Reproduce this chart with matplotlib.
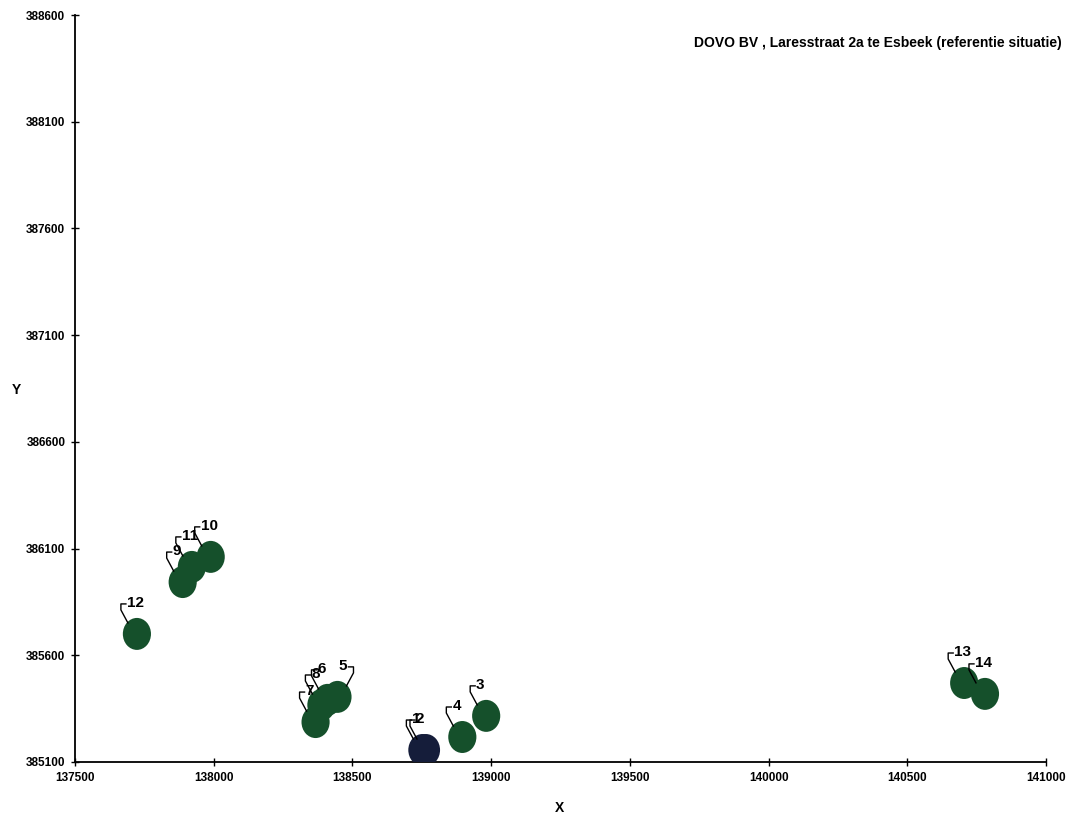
import numpy as np
import matplotlib
matplotlib.use('Agg')
import matplotlib.pyplot as plt
from matplotlib import font_manager
from matplotlib.path import Path
from matplotlib.transforms import Affine2D, ScaledTranslation

# receptor points (RD coordinates)
labels = ['1', '2', '3', '4', '5', '6', '7', '8', '9', '10', '11', '12', '13', '14']
xs = [138752, 138765, 138982, 138896, 138446, 138410, 138367, 138388,
      137888, 137989, 137921, 137723, 140705, 140780]
ys = [385156, 385156, 385316, 385217, 385405, 385391, 385287, 385367,
      385943, 386061, 386014, 385700, 385470, 385419]
kinds = ['bron', 'bron', 'pt', 'pt', 'pt', 'pt', 'pt', 'pt',
         'pt', 'pt', 'pt', 'pt', 'pt', 'pt']

xticks = [137500, 138000, 138500, 139000, 139500, 140000, 140500, 141000]
yticks = [385100, 385600, 386100, 386600, 387100, 387600, 388100, 388600]
title = 'DOVO BV , Laresstraat 2a te Esbeek (referentie situatie)'

names = {f.name for f in font_manager.fontManager.ttflist}
narrow = 'Liberation Sans Narrow' if 'Liberation Sans Narrow' in names else 'Liberation Sans'

green = '#15502b'
navy = '#151d3a'

fig = plt.figure(figsize=(10.69, 8.21), dpi=100)
ax = fig.add_axes([0.0702, 0.0719, 0.9083, 0.9098])

# slightly tall ellipse, like the scanned markers
ell = Path.unit_circle().transformed(Affine2D().scale(0.88, 1.0))
cols = [navy if k == 'bron' else green for k in kinds]
ax.scatter(xs, ys, s=530, marker=ell, c=cols, linewidths=0, zorder=3)

ax.set_xlim(xticks[0], xticks[-1])
ax.set_ylim(yticks[0], yticks[-1])
ax.set_xticks(xticks)
ax.set_yticks(yticks)
ax.tick_params(direction='inout', length=6, width=1, labelsize=8.5, pad=4)
for t in ax.get_xticklabels() + ax.get_yticklabels():
    t.set_fontweight('bold')
    t.set_family('Liberation Sans')
ax.spines['top'].set_visible(False)
ax.spines['right'].set_visible(False)
ax.spines['left'].set_linewidth(1.3)
ax.spines['bottom'].set_linewidth(1.3)

fig.text(0.523, 0.016, 'X', ha='center', va='center', fontsize=10,
         fontweight='bold', family='Liberation Sans')
fig.text(0.015, 0.525, 'Y', ha='center', va='center', fontsize=10,
         fontweight='bold', family='Liberation Sans')

# leader lines + labels, offsets in pixels
for lab, x, y in zip(labels, xs, ys):
    sgn = 1 if lab == '5' else -1
    tr = Affine2D() + ScaledTranslation(x, y, ax.transData)
    lx = [9 * sgn, 16 * sgn, 16 * sgn, 11 * sgn]
    ly = [11, 24, 30, 30]
    ax.plot(lx, ly, color='black', lw=1.0, transform=tr, zorder=4, clip_on=False)
    ax.text(10 * sgn, 31, lab, transform=tr, ha='left' if sgn < 0 else 'right',
            va='center', fontsize=11, fontweight='bold', family='Liberation Sans',
            zorder=5)

fig.text(0.993, 0.948, title, ha='right', va='center', fontsize=10,
         fontweight='bold', family=narrow)

fig.savefig('out.png', dpi=100)
